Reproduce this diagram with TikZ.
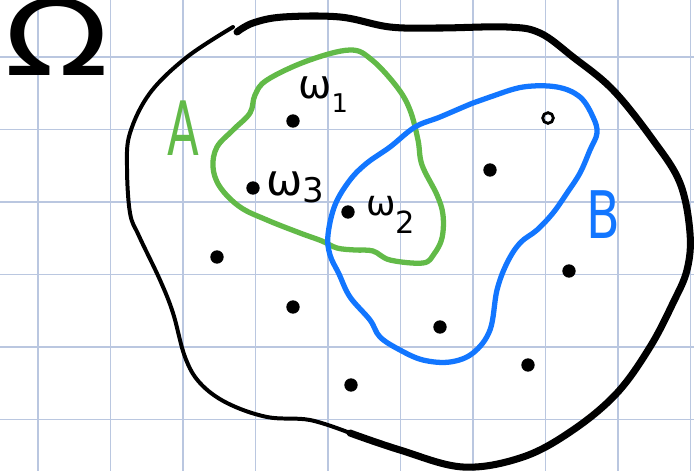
\documentclass[tikz,border=0pt]{standalone}
\usepackage{fontspec}
\setmainfont{DejaVu Sans}
\usepackage{tikz}
\definecolor{gridln}{RGB}{186,199,224}
\definecolor{setA}{RGB}{98,186,72}
\definecolor{setB}{RGB}{18,118,255}
\definecolor{ink}{RGB}{0,0,0}
\tikzset{
  grd/.style  ={draw=gridln, line width=1.3pt},
  blob/.style ={draw=ink, line width=4.5pt, line cap=round, line join=round},
  pt/.style   ={circle, fill=ink, inner sep=0pt, minimum size=4mm},
  ring/.style ={circle, draw=ink, line width=2.4pt, inner sep=0pt, minimum size=3.2mm},
  wl/.style   ={anchor=base west, inner sep=0pt, text=ink},
  big/.style  ={anchor=base, inner sep=0pt},
}
% omega with a lowered index: size of omega, index, size of index, drop
\newcommand{\wsub}[4]{{\fontsize{#1}{#1}\selectfont ω}\raisebox{#4}{\fontsize{#3}{#3}\selectfont #2}}

\begin{document}
\begin{tikzpicture}[x=0.03cm, y=-0.03cm]
  \useasboundingbox (0,0) rectangle (694,471);
  % grid paper
  \foreach \gx in {38,110.5,...,700} \draw[grd] (\gx,0) -- (\gx,471);
  \foreach \gy in {57,129.5,...,471} \draw[grd] (0,\gy) -- (694,\gy);
  % the whole space
  \draw[blob, line width=6pt] plot[smooth, tension=0.6] coordinates {
    (237,32) (253,23) (283,17) (340,17) (390,27) (440,28) (507,27) (540,33)
    (573,57) (613,90) (653,140) (680,183) (690,233) (687,270) (673,303)
    (650,347) (617,393) (573,430) (523,457) (463,467) (400,450) (350,433)};
  \draw[blob, line width=3.4pt] plot[smooth, tension=0.6] coordinates {
    (350,433) (310,420) (267,417) (227,403) (200,383) (185,357) (173,313)
    (160,280) (139,236) (130,213) (127,167) (130,133) (150,93) (187,57) (233,27)};
  % set A
  \draw[blob, draw=setA] plot[smooth cycle, tension=0.6] coordinates {
    (350,50) (307,61) (267,80) (255,95) (250,113) (233,130) (217,147)
    (213,167) (220,187) (240,207) (267,220) (300,233) (322,241) (337,248)
    (355,250) (373,251) (390,260) (423,263) (434,254) (442,238) (443,215)
    (437,195) (422,165) (418,140) (410,110) (397,87) (372,60)};
  % set B
  \draw[blob, draw=setB] plot[smooth cycle, tension=0.6] coordinates {
    (440,117) (473,103) (490,97) (523,87) (557,87) (580,97) (593,117)
    (597,133) (590,150) (580,173) (567,193) (553,213) (537,230) (520,243)
    (507,263) (497,290) (490,330) (473,353) (450,362) (423,360) (400,350)
    (380,337) (370,320) (350,297) (339,274) (330,255) (328,235) (335,205)
    (350,180) (367,163) (390,147) (415,127)};
  % labels
  \node[big, text height=48pt, text depth=0pt, font=\fontsize{90}{90}\selectfont] (omega) at (57,75) {\scalebox{1.3}[1]{Ω}};
  \node[big, text=setA, font=\fontsize{64}{64}\selectfont] (labA) at (183,155) {\scalebox{0.62}[1]{A}};
  \node[big, text=setB, font=\fontsize{56}{56}\selectfont] (labB) at (603,238) {\scalebox{0.75}[1]{B}};
  % points
  \node[pt] (w1pt) at (293,121) {};
  \node[pt] (w3pt) at (253,188) {};
  \node[pt] (w2pt) at (348,212) {};
  \node[wl] (w1) at (298,98) {\wsub{34}{1}{22}{-12pt}};
  \node[wl] (w3) at (266,195) {\wsub{37}{3}{29}{-6pt}};
  \node[wl] (w2) at (366,215) {\wsub{30}{2}{26}{-16pt}};
  \node[ring] (p1) at (548,118) {};
  \node[pt] (p2) at (490,170) {};
  \node[pt] (p3) at (217,257) {};
  \node[pt] (p4) at (293,307) {};
  \node[pt] (p5) at (569,271) {};
  \node[pt] (p6) at (440,327) {};
  \node[pt] (p7) at (528,365) {};
  \node[pt] (p8) at (351,385) {};
\end{tikzpicture}
\end{document}
